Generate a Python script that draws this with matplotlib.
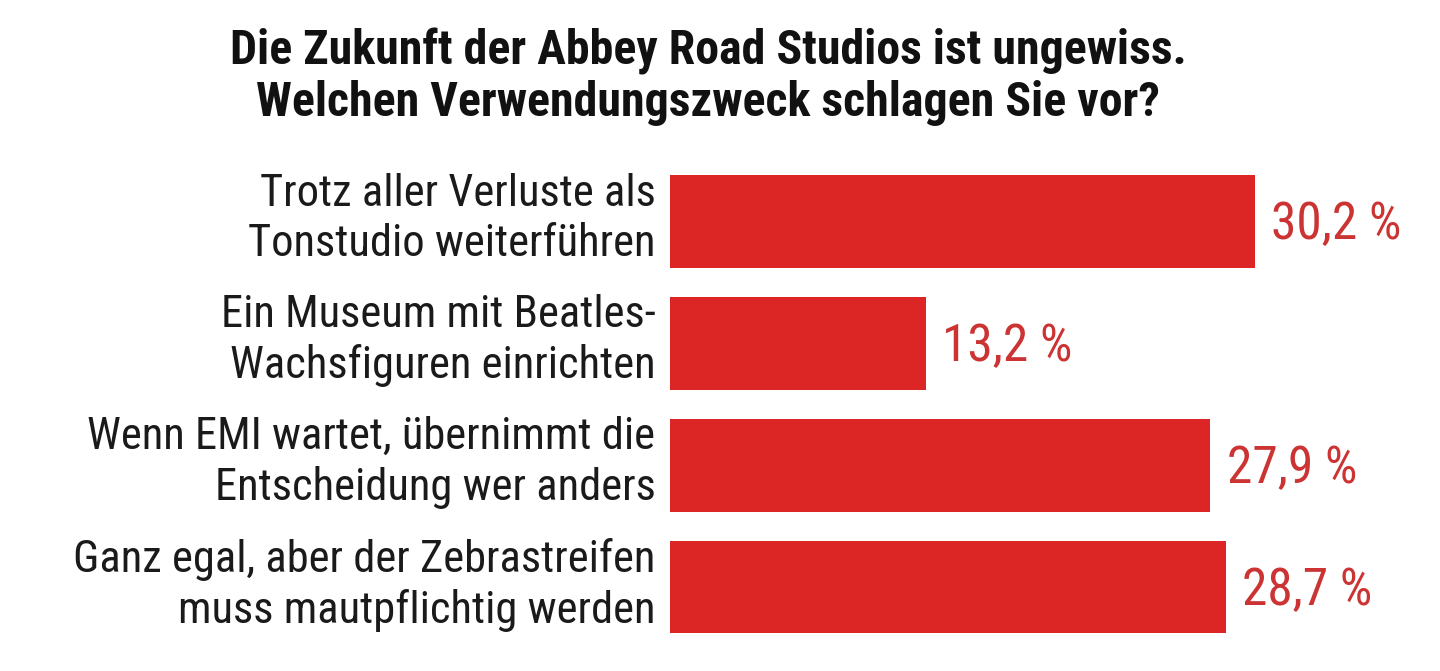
import matplotlib
matplotlib.use('Agg')
import matplotlib.pyplot as plt
from matplotlib import font_manager

# survey answers and shares (percent)
answers = [
    'Trotz aller Verluste als\nTonstudio weiterführen',
    'Ein Museum mit Beatles-\nWachsfiguren einrichten',
    'Wenn EMI wartet, übernimmt die\nEntscheidung wer anders',
    'Ganz egal, aber der Zebrastreifen\nmuss mautpflichtig werden',
]
shares = [30.2, 13.2, 27.9, 28.7]
share_labels = ['30,2 %', '13,2 %', '27,9 %', '28,7 %']
title = 'Die Zukunft der Abbey Road Studios ist ungewiss.\nWelchen Verwendungszweck schlagen Sie vor?'

names = {f.name for f in font_manager.fontManager.ttflist}
narrow = 'Liberation Sans Narrow' if 'Liberation Sans Narrow' in names else 'Roboto Condensed' if 'Roboto Condensed' in names else 'Liberation Sans'

bar_red = '#dc2626'
text_red = '#cc3333'

fig = plt.figure(figsize=(14.4, 6.71), dpi=100)
fig.patch.set_facecolor('white')
ax = fig.add_axes([670 / 1440, 23 / 671, 678 / 1440, 487.5 / 671])

ypos = list(range(len(shares)))
ax.barh(ypos, shares, height=0.76, color=bar_red)
ax.set_xlim(0, 35)
ax.set_ylim(3.5, -0.5)
ax.axis('off')

for y, v, lab, txt in zip(ypos, shares, share_labels, answers):
    ax.text(v + 0.85, y + 0.03, lab, color=text_red, fontsize=37, family=narrow,
            va='center', ha='left', clip_on=False)
    ax.text(-0.75, y - 0.02, txt, color='#1a1a1a', fontsize=32, family=narrow,
            va='center', ha='right', linespacing=1.24, clip_on=False)

fig.text(708 / 1440, 1 - 77 / 671, title, fontsize=34.5, fontweight='bold', family=narrow,
         ha='center', va='center', linespacing=1.15, color='#111111')

fig.savefig('out.png', dpi=100, facecolor='white')
